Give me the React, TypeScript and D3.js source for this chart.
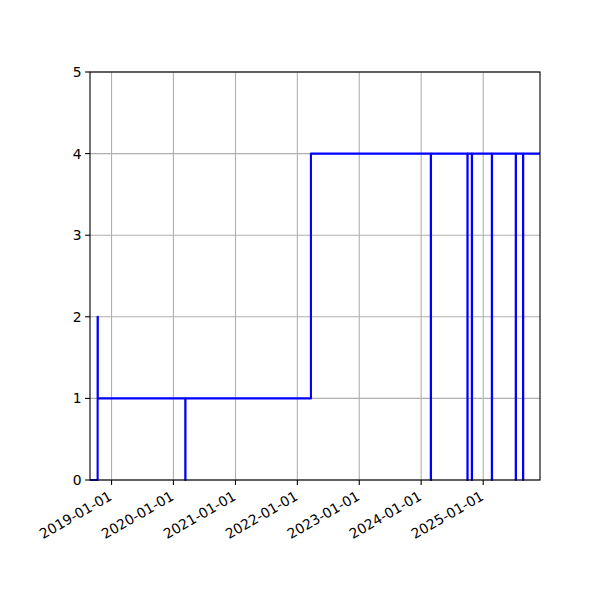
import * as d3 from 'd3'

// step data: value holds from each date until the next one (steps-post)
const stepDates = [
    '2018-08-27',
    '2018-10-11',
    '2018-10-12',
    '2020-03-11',
    '2020-03-12',
    '2022-03-22',
    '2024-02-27',
    '2024-02-28',
    '2024-09-30',
    '2024-10-01',
    '2024-10-26',
    '2024-10-27',
    '2025-02-21',
    '2025-02-22',
    '2025-07-12',
    '2025-07-13',
    '2025-08-24',
    '2025-08-25',
    '2025-12-02',
]
const stepValues = [0, 2, 1, 0, 1, 4, 0, 4, 0, 4, 0, 4, 0, 4, 0, 4, 0, 4, 4]

const xTickLabels = [
    '2019-01-01',
    '2020-01-01',
    '2021-01-01',
    '2022-01-01',
    '2023-01-01',
    '2024-01-01',
    '2025-01-01',
]
const yTicks = [0, 1, 2, 3, 4, 5]

const width = 600
const height = 600
const margin = { top: 72, right: 60, bottom: 120, left: 90 }
const font = 'DejaVu Sans, sans-serif'
const fontSize = 13.9
const tickLen = 4.9

const parse = d3.utcParse('%Y-%m-%d')

export default function App() {
    const dates = stepDates.map((d) => parse(d) as Date)
    const points: [Date, number][] = dates.map((d, i) => [d, stepValues[i]])

    const x = d3
        .scaleUtc()
        .domain(d3.extent(dates) as [Date, Date])
        .range([margin.left, width - margin.right])
    const y = d3
        .scaleLinear()
        .domain([0, 5])
        .range([height - margin.bottom, margin.top])

    const line = d3
        .line<[Date, number]>()
        .x((d) => x(d[0]))
        .y((d) => y(d[1]))
        .curve(d3.curveStepAfter)

    const x0 = margin.left
    const x1 = width - margin.right
    const y0 = height - margin.bottom
    const y1 = margin.top

    return (
        <svg
            width={width}
            height={height}
            style={{ position: 'absolute', left: 0, top: 0, background: '#fff' }}
            fontFamily={font}
        >
            <rect x={0} y={0} width={width} height={height} fill="#fff" />

            {/* grid */}
            {xTickLabels.map((t) => (
                <line
                    key={'gx' + t}
                    x1={x(parse(t) as Date)}
                    x2={x(parse(t) as Date)}
                    y1={y0}
                    y2={y1}
                    stroke="#b0b0b0"
                    strokeWidth={1.1}
                />
            ))}
            {yTicks.map((v) => (
                <line
                    key={'gy' + v}
                    x1={x0}
                    x2={x1}
                    y1={y(v)}
                    y2={y(v)}
                    stroke="#b0b0b0"
                    strokeWidth={1.1}
                />
            ))}

            <path
                d={line(points) ?? ''}
                fill="none"
                stroke="#0000ff"
                strokeWidth={2.1}
                strokeLinejoin="round"
            />

            {/* spines */}
            <rect
                x={x0}
                y={y1}
                width={x1 - x0}
                height={y0 - y1}
                fill="none"
                stroke="#000"
                strokeWidth={1.1}
            />

            {/* x ticks */}
            {xTickLabels.map((t) => {
                const tx = x(parse(t) as Date)
                return (
                    <g key={'tx' + t}>
                        <line x1={tx} x2={tx} y1={y0} y2={y0 + tickLen} stroke="#000" strokeWidth={1.1} />
                        <text
                            transform={`translate(${tx + 1.5},${y0 + 19}) rotate(-30)`}
                            textAnchor="end"
                            fontSize={fontSize}
                            fill="#000"
                        >
                            {t}
                        </text>
                    </g>
                )
            })}

            {/* y ticks */}
            {yTicks.map((v) => (
                <g key={'ty' + v}>
                    <line x1={x0 - tickLen} x2={x0} y1={y(v)} y2={y(v)} stroke="#000" strokeWidth={1.1} />
                    <text
                        x={x0 - tickLen - 3.5}
                        y={y(v)}
                        dy="0.36em"
                        textAnchor="end"
                        fontSize={fontSize}
                        fill="#000"
                    >
                        {v}
                    </text>
                </g>
            ))}
        </svg>
    )
}
